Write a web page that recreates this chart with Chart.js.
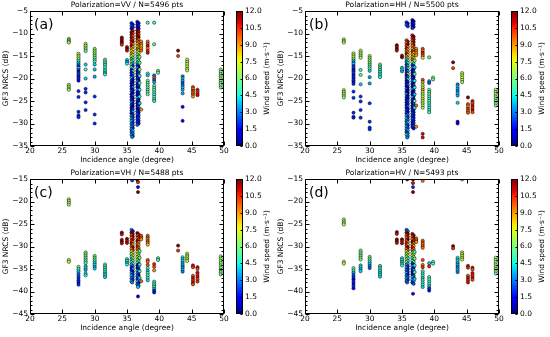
<!DOCTYPE html>
<html><head><meta charset="utf-8">
<script src="https://cdn.jsdelivr.net/npm/chart.js@4.4.0/dist/chart.umd.min.js"></script>
<style>
html,body{margin:0;padding:0;background:#fff;}
#wrap{position:relative;width:550px;height:337px;overflow:hidden;background:#fff;}
#wrap canvas{position:absolute;}
</style></head><body><div id="wrap"></div>
<script>
// ---------- labels / ticks ----------
const panelLetters = ['(a)', '(b)', '(c)', '(d)'];
const polarizations = ['VV', 'HH', 'VH', 'HV'];
const pointCounts = [5496, 5500, 5488, 5493];
const xRange = [20, 50];
const yRanges = [[-35, -5], [-35, -5], [-45, -15], [-45, -15]];
const windRange = [0, 12];
const windStep = 1.5;

// ---------- data: [incidence angle (deg), NRCS (dB), wind speed (m/s)] ----------
const vvPts = [
 [26.0,-11.2,6.5],[26.0,-11.5,6],[26.0,-11.8,7],[26.0,-12.0,6.5],
 [26.0,-21.4,6.5],[26.0,-21.8,7],[26.0,-22.2,6],[26.0,-22.5,6.5],
 [27.5,-14.5,7],[27.5,-14.9,6.5],[27.5,-15.3,7.5],[27.5,-15.7,6],[27.5,-16.1,5],[27.5,-16.5,4],[27.5,-16.9,3],[27.5,-17.3,2],[27.5,-17.7,5.5],[27.5,-18.1,2],[27.5,-18.5,1.5],[27.5,-18.9,2.5],[27.5,-19.3,2],[27.5,-19.7,1.8],[27.5,-20.1,2.2],[27.5,-20.5,1.5],
 [27.5,-22.8,2],[27.5,-24.1,2],[27.5,-27.4,1.8],[27.5,-28.2,2],[27.5,-28.6,2],
 [28.6,-12.3,6.5],[28.6,-12.7,7],[28.6,-13.1,6],[28.6,-13.5,6.5],[28.6,-13.9,5.5],
 [28.6,-16.9,4],[28.6,-18.0,5],[28.6,-20.0,4],[28.6,-22.3,2],[28.6,-23.1,2],[28.6,-25.3,2],[28.6,-27.0,2],
 [30.0,-13.4,6.5],[30.0,-13.8,6],[30.0,-14.2,7],[30.0,-14.6,5.5],[30.0,-15.0,6],[30.0,-15.4,6.5],[30.0,-15.8,5],[30.0,-16.2,5],
 [30.0,-16.9,4],[30.0,-18.0,3.8],[30.0,-19.6,3.5],[30.0,-24.0,2],[30.0,-28.0,2],[30.0,-30.0,1.8],
 [31.6,-15.8,6],[31.6,-16.2,5.5],[31.6,-16.6,5],[31.6,-17.0,4.5],[31.6,-17.5,5.5],[31.6,-18.0,4.5],[31.6,-18.4,5],[31.6,-18.8,4],[31.6,-19.1,5],
 [34.2,-10.9,12],[34.2,-11.3,11],[34.2,-11.7,12],[34.2,-12.1,11.5],[34.2,-12.5,10.5],
 [35.0,-13.0,11],[35.0,-13.4,12],[35.0,-13.8,11],[35.0,-15.9,4],[35.0,-16.3,3.5],[35.0,-16.7,4.5],
 [35.7,-7.7,2],[35.9,-8.0,1.5],[35.7,-8.3,2.5],[35.9,-8.6,2],[35.7,-8.9,1.5],
 [35.9,-9.4,11],[35.7,-9.7,12],[35.9,-10.0,10.5],[35.7,-10.3,11.5],[35.9,-10.6,9.5],[35.7,-10.9,12],[35.9,-11.2,10],[35.7,-11.5,11],[35.9,-11.8,12],[35.7,-12.1,10.5],[35.9,-12.4,9],[35.7,-12.7,11.5],
 [35.9,-13.0,8.5],[35.7,-13.3,9.5],[35.9,-13.6,7.5],[35.7,-13.9,8],[35.9,-14.2,6.5],[35.7,-14.5,9],[35.9,-14.8,7.5],[35.7,-15.1,7],
 [35.9,-15.4,6],[35.7,-15.7,4],[35.9,-16.0,5.5],[35.7,-16.3,7],[35.9,-16.6,3.5],[35.7,-16.9,5],[35.9,-17.2,2],[35.7,-17.5,6],[35.9,-17.8,4.5],[35.7,-18.1,1.5],[35.9,-18.4,5.5],
 [35.7,-18.7,1.5],[35.9,-19.0,3.5],[35.7,-19.3,1],[35.9,-19.6,2.5],[35.7,-19.9,4],[35.9,-20.2,1],[35.7,-20.5,2],[35.9,-20.8,0.8],
 [35.7,-21.1,0.8],[35.9,-21.4,2],[35.7,-21.7,1.2],[35.9,-22.0,3.5],[35.7,-22.3,0.8],[35.9,-22.6,1.5],[35.7,-22.9,2.5],[35.9,-23.2,1],[35.7,-23.5,0.5],[35.9,-23.8,3],[35.7,-24.1,1.5],[35.9,-24.4,1],
 [35.7,-24.7,2],[35.9,-25.0,0.8],[35.7,-25.3,3.5],[35.9,-25.6,1.2],[35.7,-25.9,2],[35.9,-26.2,1],[35.7,-26.5,0.5],[35.9,-26.8,2.5],[35.7,-27.1,1.5],[35.9,-27.4,4],[35.7,-27.7,1],[35.9,-28.0,2],
 [35.7,-28.3,3],[35.9,-28.6,2],[35.7,-28.9,3.5],[35.9,-29.2,2.5],[35.7,-29.5,4],[35.9,-29.8,2],[35.7,-30.1,3],[35.9,-30.4,2.5],[35.7,-30.7,3.5],[35.9,-31.0,2],[35.7,-31.3,3],[35.9,-31.6,4],[35.7,-31.9,2.5],[35.9,-32.2,3],[35.7,-32.5,3.5],[35.9,-32.8,2.5],[35.8,-33.0,3],
 [36.6,-7.4,1],[36.8,-7.7,1.5],[36.6,-8.0,0.8],[36.8,-8.3,2],[36.6,-8.6,1],[36.8,-8.9,1.5],
 [36.6,-9.3,12],[36.8,-9.6,11],[36.6,-9.9,12],[36.8,-10.2,10.5],[36.6,-10.5,11.5],[36.8,-10.8,12],[36.6,-11.1,11],
 [36.8,-11.4,9.5],[36.6,-11.7,10],[36.8,-12.0,9],[36.6,-12.3,8.5],[36.8,-12.6,9.5],[36.6,-12.9,8],[36.8,-13.2,9],[36.6,-13.5,10],
 [36.8,-13.8,7],[36.6,-14.1,6.5],[36.8,-14.4,7.5],[36.6,-14.7,5.5],[36.8,-15.0,6],[36.6,-15.3,4.5],[36.8,-15.6,6.5],[36.6,-15.9,5],[36.8,-16.2,7],[36.6,-16.5,4],[36.8,-16.8,6],
 [36.6,-17.1,2],[36.8,-17.4,1],[36.6,-17.7,3.5],[36.8,-18.0,0.8],[36.6,-18.3,1.5],[36.8,-18.6,2.5],[36.6,-18.9,1],[36.8,-19.2,4],[36.6,-19.5,0.5],[36.8,-19.8,1.5],[36.6,-20.1,2],[36.8,-20.4,1],
 [36.6,-20.7,3],[36.8,-21.0,0.8],[36.6,-21.3,1.5],[36.8,-21.6,2.5],[36.6,-21.9,1],[36.8,-22.2,0.8],[36.6,-22.5,3.5],[36.8,-22.8,1.5],[36.6,-23.1,1],[36.8,-23.4,2],[36.6,-23.7,0.8],[36.8,-24.0,1.5],
 [36.6,-24.3,4],[36.8,-24.6,1],[36.6,-24.9,2],[36.8,-25.2,1.5],[36.6,-25.5,0.5],[36.8,-25.8,2.5],[36.6,-26.1,1],[36.8,-26.4,3],[36.6,-26.7,0.8],[36.8,-27.0,1.5],[36.6,-27.3,2],[36.8,-27.6,1],[36.6,-27.9,2.5],
 [36.8,-28.2,2],[36.6,-28.5,1.5],[36.8,-28.8,2.5],[36.6,-29.1,2],[36.8,-29.4,1.8],[36.6,-29.7,2],[36.8,-30.0,1.5],[36.6,-30.3,2.5],
 [36.95,-15.2,6],[36.95,-16.5,5.5],[36.95,-18.0,6.5],[36.95,-19.4,5],[36.95,-21.0,5.5],[36.95,-22.5,4.5],[36.95,-24.0,5],[36.95,-25.5,4],
 [37.2,-11.8,9],[37.2,-12.3,9.5],[37.2,-12.8,8.5],[37.2,-13.3,9],[37.2,-13.8,9.5],[37.2,-26.9,9],
 [38.2,-7.6,5.5],[38.2,-11.8,9.5],[38.2,-12.3,10],[38.2,-12.8,11],[38.2,-13.3,9],[38.2,-13.8,10.5],[38.2,-14.3,11],
 [38.2,-18.9,5],[38.2,-19.3,4],[38.2,-20.5,6],[38.2,-21.0,5],[38.2,-21.5,6],[38.2,-22.0,5.5],[38.2,-22.5,5],[38.2,-23.0,6],[38.2,-23.5,5.5],
 [39.2,-7.6,5],[39.2,-12.4,5.5],[39.2,-19.3,3],[39.2,-19.8,10],[39.2,-20.3,2.5],[39.2,-20.8,3.5],
 [39.2,-21.6,5.5],[39.2,-22.1,5],[39.2,-22.6,6],[39.2,-23.1,5],[39.2,-23.6,4.5],[39.2,-24.1,5.5],[39.2,-24.6,5],[39.2,-25.0,4.5],
 [39.8,-18.3,6],[39.8,-18.7,5.5],
 [42.9,-13.8,12],[42.9,-15.0,10],
 [43.6,-19.5,3],[43.6,-20.0,4],[43.6,-20.5,3.5],[43.6,-21.0,2.5],[43.6,-21.5,3],[43.6,-22.0,4],[43.6,-22.5,3.5],[43.6,-23.3,3.5],[43.6,-26.3,1.5],[43.6,-29.4,1.5],
 [44.3,-15.8,7],[44.3,-16.3,6.5],[44.3,-16.8,7.5],[44.3,-17.3,7],[44.3,-17.8,6.5],[44.3,-18.2,7],
 [45.2,-21.9,10],[45.2,-22.3,9],[45.2,-22.7,10.5],[45.2,-23.1,9.5],[45.2,-23.5,10],[45.2,-24.0,9],
 [45.9,-22.5,11],[45.9,-22.9,10],[45.9,-23.3,10.5],[45.9,-23.7,11],
 [49.5,-18.0,6],[49.5,-18.5,6.5],[49.5,-19.0,5.5],[49.5,-19.5,6],[49.5,-20.0,6.5],[49.5,-20.5,5.5],[49.5,-21.0,6],[49.5,-21.5,6.5],[49.5,-22.0,5.5]
];

const hhPts = [
 [26.0,-11.3,6.5],[26.0,-11.7,7],[26.0,-12.0,6.5],
 [26.0,-22.6,7],[26.0,-23.0,6.5],[26.0,-23.4,7],[26.0,-23.8,6],[26.0,-24.2,6.5],
 [27.5,-14.4,7],[27.5,-14.8,6.5],[27.5,-15.2,7.5],[27.5,-15.6,6],[27.5,-16.0,4],[27.5,-16.4,3],[27.5,-16.8,5],[27.5,-17.2,2],[27.5,-17.6,2.5],[27.5,-18.0,1.5],[27.5,-18.4,2],[27.5,-18.8,2.5],[27.5,-19.2,1.5],[27.5,-19.6,2],[27.5,-20.0,1.8],[27.5,-20.4,2.2],[27.5,-20.8,1.5],[27.5,-21.2,2],
 [27.5,-22.9,2],[27.5,-24.3,2],[27.5,-27.6,2],[27.5,-28.5,2],[27.5,-28.7,1.8],
 [28.6,-13.8,7],[28.6,-14.2,6.5],[28.6,-14.6,7],[28.6,-15.0,6],[28.6,-15.4,6.5],
 [28.6,-18.1,5],[28.6,-19.2,5.5],[28.6,-21.3,4],[28.6,-24.0,2],[28.6,-25.1,2],[28.6,-27.0,2],[28.6,-28.7,2],
 [30.0,-15.0,6.5],[30.0,-15.4,6],[30.0,-15.8,7],[30.0,-16.2,5.5],[30.0,-16.6,6],[30.0,-17.0,5],[30.0,-17.4,6],[30.0,-17.8,5.5],
 [30.0,-18.3,4],[30.0,-19.7,3.5],[30.0,-21.1,3.5],[30.0,-25.5,2],[30.0,-29.6,2],[30.0,-30.9,2],[30.0,-31.3,2],
 [31.6,-16.9,6],[31.6,-17.3,5],[31.6,-17.7,5.5],[31.6,-18.1,4.5],[31.6,-18.5,5],[31.6,-18.9,4.5],[31.6,-19.3,5],[31.6,-19.7,4.5],
 [34.2,-12.6,12],[34.2,-13.0,11],[34.2,-13.4,12],[34.2,-13.8,11],
 [35.0,-14.9,11.5],[35.0,-15.3,12],[35.0,-17.6,4],[35.0,-18.0,5],[35.0,-18.4,3.5],
 [35.7,-7.5,2],[35.9,-7.8,1.5],[35.7,-8.1,2.5],[35.9,-8.4,2],
 [35.7,-11.5,10],[35.9,-11.8,11.5],[35.7,-12.1,9.5],[35.9,-12.4,12],[35.7,-12.7,10.5],[35.9,-13.0,9],[35.7,-13.3,11],[35.9,-13.6,8.5],[35.7,-13.9,10],[35.9,-14.2,9],[35.7,-14.5,11.5],[35.9,-14.8,8],[35.7,-15.1,9.5],
 [35.9,-15.4,7],[35.7,-15.7,4],[35.9,-16.0,6],[35.7,-16.3,3],[35.9,-16.6,5],[35.7,-16.9,2],[35.9,-17.2,4],[35.7,-17.5,2.5],[35.9,-17.8,6],[35.7,-18.1,1.5],[35.9,-18.4,3.5],[35.7,-18.7,2],[35.9,-19.0,8],[35.7,-19.3,1],[35.9,-19.6,3],[35.7,-19.9,2],[35.9,-20.2,4.5],
 [35.7,-20.5,1],[35.9,-20.8,2],[35.7,-21.1,0.8],[35.9,-21.4,3],[35.7,-21.7,1.5],[35.9,-22.0,0.8],[35.7,-22.3,2.5],[35.9,-22.6,1],[35.7,-22.9,1.5],[35.9,-23.2,0.5],[35.7,-23.5,3.5],[35.9,-23.8,1],[35.7,-24.1,2],
 [35.9,-24.4,0.8],[35.7,-24.7,1.5],[35.9,-25.0,2.5],[35.7,-25.3,1],[35.9,-25.6,2],[35.7,-25.9,0.8],[35.9,-26.2,3],[35.7,-26.5,1.5],[35.9,-26.8,1],[35.7,-27.1,2.5],[35.9,-27.4,1],[35.7,-27.7,2],
 [35.9,-28.0,3],[35.7,-28.3,3.5],[35.9,-28.6,2],[35.7,-28.9,4],[35.9,-29.2,3],[35.7,-29.5,2.5],[35.9,-29.8,4.5],[35.7,-30.1,3],[35.9,-30.4,2],[35.7,-30.7,3.5],[35.9,-31.0,2.5],[35.7,-31.3,3],[35.9,-31.6,4],[35.7,-31.9,2],[35.9,-32.2,3],[35.7,-32.5,5],[35.9,-32.8,3.5],[35.8,-33.1,3],
 [36.6,-7.0,1],[36.8,-7.3,1.5],[36.6,-7.6,0.8],[36.8,-7.9,2],[36.6,-8.2,1],[36.8,-8.5,1.5],[36.6,-8.8,2],
 [36.6,-10.4,11],[36.8,-10.7,12],[36.6,-11.0,10.5],[36.8,-11.3,11.5],[36.6,-11.6,10],[36.8,-11.9,12],[36.6,-12.2,9.5],[36.8,-12.5,11],[36.6,-12.8,9],[36.8,-13.1,10],
 [36.6,-13.4,8.5],[36.8,-13.7,9.5],[36.6,-14.0,11],[36.8,-14.3,8],[36.6,-14.6,9],[36.8,-14.9,7.5],[36.6,-15.2,9],[36.8,-15.5,8],[36.6,-15.8,10],
 [36.8,-16.1,6],[36.6,-16.4,7],[36.8,-16.7,5],
 [36.6,-17.0,2],[36.8,-17.3,1],[36.6,-17.6,3.5],[36.8,-17.9,0.8],[36.6,-18.2,1.5],[36.8,-18.5,2.5],[36.6,-18.8,1],[36.8,-19.1,4],[36.6,-19.4,0.5],[36.8,-19.7,1.5],[36.6,-20.0,2],[36.8,-20.3,1],
 [36.6,-20.6,3],[36.8,-20.9,0.8],[36.6,-21.2,1.5],[36.8,-21.5,2.5],[36.6,-21.8,1],[36.8,-22.1,0.8],[36.6,-22.4,3.5],[36.8,-22.7,1.5],[36.6,-23.0,1],[36.8,-23.3,2],[36.6,-23.6,0.8],[36.8,-23.9,1.5],
 [36.6,-24.2,4],[36.8,-24.5,1],[36.6,-24.8,2],[36.8,-25.1,1.5],[36.6,-25.4,0.5],[36.8,-25.7,2.5],[36.6,-26.0,1],[36.8,-26.3,3],[36.6,-26.6,0.8],[36.8,-26.9,1.5],[36.6,-27.2,2],[36.8,-27.5,1],[36.6,-27.8,2.5],[36.8,-28.1,1.5],
 [36.6,-28.4,2],[36.8,-28.7,1.5],[36.6,-29.0,2.5],[36.8,-29.3,2],[36.6,-29.6,1.8],[36.8,-29.9,2],[36.6,-30.2,1.5],[36.8,-30.5,2.5],[36.6,-30.8,2],[36.8,-31.1,1.5],
 [36.95,-16.0,6],[36.95,-17.5,4],[36.95,-19.0,5.5],[36.95,-20.5,4.5],[36.95,-22.0,5],[36.95,-23.5,4],[36.95,-25.0,5.5],[36.95,-26.5,4.5],
 [37.2,-13.4,9],[37.2,-13.9,9.5],[37.2,-14.4,8.5],[37.2,-14.8,9],[37.2,-26.0,9.5],[37.2,-30.7,9],
 [38.2,-13.4,10],[38.2,-13.8,9],[38.2,-14.2,11],[38.2,-14.6,10],[38.2,-15.0,9.5],[38.2,-15.4,8],
 [38.2,-20.3,10],[38.2,-20.8,9],
 [38.2,-21.5,7],[38.2,-22.0,6.5],[38.2,-22.5,9],[38.2,-23.0,7],[38.2,-23.5,6],[38.2,-24.0,7.5],[38.2,-24.5,6.5],[38.2,-25.0,7],[38.2,-25.5,6],[38.2,-26.0,7],[38.2,-26.5,6.5],
 [38.2,-32.3,11],[38.2,-33.1,11],
 [39.2,-15.3,5.5],[39.2,-20.6,3.5],[39.2,-21.0,2.5],
 [39.2,-22.5,5.5],[39.2,-23.0,5],[39.2,-23.5,6],[39.2,-24.0,5],[39.2,-24.5,4.5],[39.2,-25.0,5.5],[39.2,-25.5,5],[39.2,-26.0,4.5],[39.2,-26.5,5],[39.2,-27.0,4.5],[39.2,-27.5,5],
 [39.8,-19.8,6],[39.8,-20.2,5.5],
 [42.9,-16.4,12],[42.9,-17.7,10],
 [43.6,-21.3,3],[43.6,-21.8,4],[43.6,-22.3,3.5],[43.6,-22.8,3],[43.6,-23.3,4],[43.6,-23.8,3.5],[43.6,-25.4,4],[43.6,-29.6,1.5],[43.6,-30.0,1.5],
 [44.3,-18.8,7],[44.3,-19.3,6.5],[44.3,-19.8,7.5],[44.3,-20.3,7],[44.3,-20.8,6.5],
 [45.2,-24.2,12],[45.2,-25.7,10],[45.2,-26.2,9],[45.2,-26.7,10.5],[45.2,-27.2,9.5],[45.2,-27.6,10],
 [45.9,-25.0,11],[45.9,-25.5,10],[45.9,-26.0,11],[45.9,-26.5,10.5],[45.9,-27.0,11],[45.9,-27.5,10],
 [49.5,-22.5,6.5],[49.5,-23.0,6],[49.5,-23.5,7],[49.5,-24.0,6.5],[49.5,-24.5,5.5],[49.5,-25.0,6],[49.5,-25.5,6.5],[49.5,-26.0,5.5]
];

const vhPts = [
 [26.0,-19.5,7],[26.0,-19.9,6.5],[26.0,-20.3,7],[26.0,-20.7,6.5],
 [26.0,-33.0,6.5],[26.0,-33.4,7],
 [27.5,-34.5,6],[27.5,-35.0,5],[27.5,-35.5,4],[27.5,-36.0,3],[27.5,-36.5,2.5],[27.5,-37.0,2],[27.5,-37.5,2],[27.5,-38.0,1.5],[27.5,-38.5,2],
 [28.6,-31.3,6],[28.6,-31.7,6.5],[28.6,-32.1,5.5],[28.6,-32.5,6],[28.6,-32.9,5.5],[28.6,-33.3,6],[28.6,-33.7,5],
 [28.6,-34.4,4],[28.6,-34.8,4.5],[28.6,-35.2,3.5],[28.6,-36.0,4],[28.6,-36.4,4.5],
 [30.0,-32.1,6],[30.0,-32.5,5.5],[30.0,-32.9,6],[30.0,-33.3,5],[30.0,-33.7,4],[30.0,-34.1,4.5],[30.0,-34.5,3.5],[30.0,-34.9,4],
 [31.6,-34.0,5.5],[31.6,-34.4,5],[31.6,-34.8,4.5],[31.6,-35.2,5],[31.6,-35.6,4.5],[31.6,-36.0,4],[31.6,-36.4,4.5],[31.6,-36.8,4],
 [34.2,-26.9,12],[34.2,-27.3,11],[34.2,-28.5,11.5],[34.2,-28.9,12],[34.2,-29.3,11],
 [35.0,-28.3,12],[35.0,-28.8,11],[35.0,-29.2,11.5],[35.0,-32.8,4.5],[35.0,-33.2,5],[35.0,-33.6,4],[35.0,-34.0,4.5],
 [35.8,-15.3,2],
 [35.7,-26.3,3],[35.9,-26.6,2],
 [35.7,-26.9,12],[35.9,-27.2,11],[35.7,-27.5,10],[35.9,-27.8,12],[35.7,-28.1,9.5],[35.9,-28.4,11],[35.7,-28.7,10.5],[35.9,-29.0,9],[35.7,-29.3,11.5],[35.9,-29.6,8.5],[35.7,-29.9,10],[35.9,-30.2,12],[35.7,-30.5,9],[35.9,-30.8,10.5],[35.7,-31.1,8],
 [35.9,-31.4,7],[35.7,-31.7,6],[35.9,-32.0,8],[35.7,-32.3,5],[35.9,-32.6,7],[35.7,-32.9,4],[35.9,-33.2,6],[35.7,-33.5,4.5],[35.9,-33.8,5.5],[35.7,-34.1,3.5],
 [35.9,-34.4,3],[35.7,-34.7,1.5],[35.9,-35.0,4],[35.7,-35.3,2],[35.9,-35.6,1],[35.7,-35.9,3.5],[35.9,-36.2,2],[35.7,-36.5,4],[35.9,-36.8,2.5],[35.7,-37.1,3],[35.9,-37.4,2],[35.7,-37.7,3.5],[35.8,-38.0,3],
 [36.6,-15.2,12],[36.7,-15.7,10.5],[36.7,-16.8,1.5],[36.7,-17.9,12],
 [36.6,-27.0,12],[36.8,-27.3,11],[36.6,-27.6,10],[36.8,-27.9,11.5],[36.6,-28.2,9.5],[36.8,-28.5,10.5],[36.6,-28.8,12],[36.8,-29.1,9],[36.6,-29.4,10],[36.8,-29.7,8.5],[36.6,-30.0,11],[36.8,-30.3,9.5],[36.6,-30.6,10],[36.8,-30.9,8],
 [36.6,-31.2,7.5],[36.8,-31.5,6],[36.6,-31.8,8],[36.8,-32.1,5.5],[36.6,-32.4,7],[36.8,-32.7,4.5],[36.6,-33.0,6.5],[36.8,-33.3,5],[36.6,-33.6,6],
 [36.8,-33.9,2],[36.6,-34.2,1],[36.8,-34.5,3.5],[36.6,-34.8,0.8],[36.8,-35.1,2],[36.6,-35.4,4],[36.8,-35.7,1.5],[36.6,-36.0,3],[36.8,-36.3,1],[36.6,-36.6,2.5],[36.8,-36.9,4],[36.6,-37.2,2],[36.8,-37.5,3.5],[36.6,-37.8,4],[36.8,-38.1,1.5],[36.6,-38.4,2.5],[36.8,-38.7,3],[36.7,-39.0,4],
 [36.7,-41.1,1.5],
 [36.95,-31.0,5],[36.95,-32.5,6],[36.95,-34.0,4.5],[36.95,-35.5,5.5],[36.95,-37.0,4],
 [37.2,-27.6,9.5],[37.2,-28.0,10],[37.2,-28.4,9],[37.2,-37.7,9.5],
 [38.2,-27.6,9.5],[38.2,-28.0,10],[38.2,-28.4,9],[38.2,-28.8,10],[38.2,-29.2,9.5],[38.2,-29.6,8.5],
 [38.2,-33.0,10],[38.2,-33.4,9.5],[38.2,-34.1,10],
 [38.2,-34.8,5],[38.2,-35.4,4],[38.2,-35.9,5.5],[38.2,-36.4,4.5],[38.2,-37.0,5],[38.2,-37.5,4],
 [39.2,-33.9,10.5],[39.2,-34.5,10],[39.2,-35.3,9],
 [39.2,-37.8,5],[39.2,-38.2,5.5],[39.2,-38.6,4.5],[39.2,-39.0,5],[39.2,-39.4,4],[39.2,-39.8,2],[39.2,-40.2,1.5],
 [39.8,-32.6,5.5],[39.8,-33.0,5],
 [42.9,-29.8,12],[42.9,-30.9,10.5],
 [43.6,-32.4,4.5],[43.6,-32.8,4],[43.6,-33.2,5],[43.6,-33.6,3.5],[43.6,-34.0,4],[43.6,-34.4,3],[43.6,-34.8,3.5],[43.6,-35.2,4],[43.6,-35.6,3],
 [44.3,-31.6,7],[44.3,-32.0,6.5],[44.3,-32.4,7.5],[44.3,-32.8,6.5],[44.3,-33.2,7],
 [45.2,-34.2,11],[45.2,-34.6,10.5],[45.2,-36.5,10],[45.2,-37.0,11],[45.2,-37.5,10.5],[45.2,-38.0,11],[45.2,-38.4,10],
 [45.9,-34.6,11],[45.9,-35.0,10],[45.9,-35.8,11],[45.9,-36.3,10.5],[45.9,-36.8,11],[45.9,-37.3,10],[45.9,-37.8,10.5],
 [49.5,-32.2,6.5],[49.5,-32.7,6],[49.5,-33.2,7],[49.5,-33.7,6.5],[49.5,-34.2,5.5],[49.5,-34.7,6],[49.5,-35.2,6.5],[49.5,-35.7,5.5],[49.5,-36.2,6]
];

const hvPts = [
 [26.0,-24.0,7],[26.0,-24.4,6.5],[26.0,-24.8,7],[26.0,-25.1,6.5],
 [26.0,-33.4,6.5],[26.0,-33.8,7],
 [27.5,-34.8,6],[27.5,-35.3,5],[27.5,-35.8,3.5],[27.5,-36.3,2.5],[27.5,-36.8,2],[27.5,-37.3,1.5],[27.5,-37.8,2],[27.5,-38.3,1.5],[27.5,-38.8,2],[27.5,-39.3,1.5],
 [28.6,-30.9,6],[28.6,-31.3,6.5],[28.6,-31.7,5.5],[28.6,-32.1,6],[28.6,-32.5,6.5],[28.6,-32.9,5.5],
 [28.6,-34.2,4],[28.6,-34.6,4.5],[28.6,-35.0,3.5],[28.6,-35.5,4],
 [30.0,-32.3,5.5],[30.0,-32.7,6],[30.0,-33.1,5],[30.0,-33.5,4.5],[30.0,-33.9,4],[30.0,-34.3,3],[30.0,-34.8,2.5],
 [31.6,-34.3,5],[31.6,-34.7,4.5],[31.6,-35.1,5],[31.6,-35.5,4.5],[31.6,-35.9,4],[31.6,-36.3,4.5],[31.6,-36.7,4],
 [34.2,-26.8,12],[34.2,-27.2,11],[34.2,-28.4,11.5],[34.2,-28.8,12],[34.2,-29.2,11],
 [35.0,-28.4,12],[35.0,-28.8,11],[35.0,-29.3,11.5],[35.0,-32.6,4.5],[35.0,-33.0,5],[35.0,-33.4,4],[35.0,-33.8,4.5],[35.0,-34.2,5],
 [35.8,-15.1,2],
 [35.7,-26.3,2.5],[35.9,-26.6,3],
 [35.7,-26.9,11.5],[35.9,-27.2,12],[35.7,-27.5,10],[35.9,-27.8,11],[35.7,-28.1,9.5],[35.9,-28.4,12],[35.7,-28.7,10],[35.9,-29.0,9],[35.7,-29.3,11],[35.9,-29.6,8.5],[35.7,-29.9,10.5],[35.9,-30.2,12],[35.7,-30.5,9.5],[35.9,-30.8,10],[35.7,-31.1,8],
 [35.9,-31.4,7],[35.7,-31.7,5.5],[35.9,-32.0,8],[35.7,-32.3,6],[35.9,-32.6,4.5],[35.7,-32.9,7],[35.9,-33.2,5],[35.7,-33.5,6.5],[35.9,-33.8,4],[35.7,-34.1,3.5],
 [35.9,-34.4,2],[35.7,-34.7,3.5],[35.9,-35.0,1.5],[35.7,-35.3,3],[35.9,-35.6,2],[35.7,-35.9,4],[35.9,-36.2,1.5],[35.7,-36.5,3],[35.9,-36.8,2.5],[35.7,-37.1,3.5],[35.9,-37.4,2],[35.7,-37.7,3],[35.8,-38.0,2.5],
 [36.7,-15.1,12],[36.7,-15.9,11],[36.7,-16.8,2],[36.7,-17.9,12],
 [36.6,-27.2,11],[36.8,-27.5,12],[36.6,-27.8,10],[36.8,-28.1,11.5],[36.6,-28.4,9.5],[36.8,-28.7,10.5],[36.6,-29.0,12],[36.8,-29.3,9],[36.6,-29.6,10],[36.8,-29.9,8.5],[36.6,-30.2,11],[36.8,-30.5,9.5],[36.6,-30.8,10],
 [36.8,-31.1,7.5],[36.6,-31.4,6],[36.8,-31.7,8],[36.6,-32.0,5.5],[36.8,-32.3,7],[36.6,-32.6,4.5],[36.8,-32.9,6.5],[36.6,-33.2,5],[36.8,-33.5,6],
 [36.6,-33.8,2],[36.8,-34.1,1],[36.6,-34.4,3.5],[36.8,-34.7,0.8],[36.6,-35.0,2],[36.8,-35.3,4],[36.6,-35.6,1.5],[36.8,-35.9,3],[36.6,-36.2,1],[36.8,-36.5,2.5],[36.6,-36.8,4],[36.8,-37.1,2],[36.6,-37.4,3.5],[36.8,-37.7,4],[36.6,-38.0,1.5],[36.8,-38.3,2.5],
 [36.7,-40.5,1.5],
 [36.95,-31.2,5],[36.95,-32.7,6],[36.95,-34.2,4.5],[36.95,-35.7,5.5],[36.95,-37.2,4],
 [37.2,-28.2,9.5],[37.2,-28.6,10],[37.2,-29.0,9],
 [38.2,-15.4,9.5],
 [38.2,-28.7,9.5],[38.2,-29.1,10],[38.2,-29.5,9],[38.2,-29.9,10],[38.2,-30.3,9.5],
 [38.2,-33.0,10],[38.2,-34.1,9.5],[38.2,-34.6,10.5],
 [38.2,-35.5,5],[38.2,-36.0,4.5],[38.2,-36.5,5.5],[38.2,-37.0,4],[38.2,-37.5,5],[38.2,-38.0,4.5],[38.2,-38.5,5],[38.2,-39.0,4],
 [39.2,-33.7,4],[39.2,-34.4,10.5],
 [39.2,-36.8,5],[39.2,-37.3,5.5],[39.2,-37.8,4.5],[39.2,-38.3,5],[39.2,-38.8,4],[39.2,-39.3,2],[39.2,-39.8,1.5],
 [39.8,-33.4,5.5],[39.8,-33.8,5],
 [42.9,-29.9,12],[42.9,-30.4,10.5],
 [43.6,-32.5,4.5],[43.6,-32.9,4],[43.6,-33.3,5],[43.6,-33.7,3.5],[43.6,-34.1,4],[43.6,-34.5,3],[43.6,-34.9,3.5],[43.6,-35.3,4],[43.6,-35.7,3],
 [44.3,-15.1,6],
 [44.3,-31.3,7],[44.3,-31.7,6.5],[44.3,-32.1,7.5],[44.3,-32.5,6.5],[44.3,-32.9,7],
 [45.2,-34.3,11],[45.2,-34.7,10.5],[45.2,-36.5,10],[45.2,-37.0,11],[45.2,-37.5,10.5],[45.2,-38.0,11],
 [45.9,-34.7,11],[45.9,-35.1,10],[45.9,-35.9,11],[45.9,-36.4,10.5],[45.9,-36.9,11],[45.9,-37.4,10],
 [49.5,-32.5,6.5],[49.5,-33.0,6],[49.5,-33.5,7],[49.5,-34.0,6.5],[49.5,-34.5,5.5],[49.5,-35.0,6],[49.5,-35.5,6.5],[49.5,-36.0,5.5]
];

const panelData = [vvPts, hhPts, vhPts, hvPts];

// ---------- helpers ----------
const FONT = 'DejaVu Sans';
const small = {family: FONT, size: 7.5, weight: 'normal'};

function jet(t) {
  t = Math.max(0, Math.min(1, t));
  const f = (pts) => {
    for (let i = 1; i < pts.length; i++) {
      if (t <= pts[i][0]) {
        const [x0, y0] = pts[i - 1], [x1, y1] = pts[i];
        return y0 + (y1 - y0) * (t - x0) / (x1 - x0);
      }
    }
    return pts[pts.length - 1][1];
  };
  const r = f([[0,0],[0.35,0],[0.66,1],[0.89,1],[1,0.5]]);
  const g = f([[0,0],[0.125,0],[0.375,1],[0.64,1],[0.91,0],[1,0]]);
  const b = f([[0,0.5],[0.11,1],[0.34,1],[0.65,0],[1,0]]);
  return `rgb(${Math.round(r*255)},${Math.round(g*255)},${Math.round(b*255)})`;
}
const minusFmt = v => (v < 0 ? '\u2212' : '') + Math.abs(v);

const wrap = document.getElementById('wrap');
function addCanvas(w, h, left, top) {
  const c = document.createElement('canvas');
  c.width = w; c.height = h;
  c.style.width = w + 'px'; c.style.height = h + 'px';
  c.style.left = left + 'px'; c.style.top = top + 'px';
  wrap.appendChild(c);
  return c;
}

function framePlugin(letter) {
  return {
    id: 'frameTicks',
    afterDraw(chart) {
      const {ctx, chartArea: a, scales: {x, y}} = chart;
      ctx.save();
      ctx.strokeStyle = '#000';
      ctx.lineWidth = 1;
      const L = Math.round(a.left) + 0.5, R = Math.round(a.right) - 0.5;
      const T = Math.round(a.top) + 0.5, B = Math.round(a.bottom) - 0.5;
      ctx.strokeRect(L, T, R - L, B - T);
      ctx.beginPath();
      for (let v = x.min; v <= x.max; v += 5) {
        const px = Math.round(x.getPixelForValue(v)) + 0.5;
        ctx.moveTo(px, B); ctx.lineTo(px, B - 4);
        ctx.moveTo(px, T); ctx.lineTo(px, T + 4);
      }
      for (let v = y.min; v <= y.max; v += 1) {
        const len = (v % 5 === 0) ? 4 : 2;
        const py = Math.round(y.getPixelForValue(v)) + 0.5;
        ctx.moveTo(L, py); ctx.lineTo(L + len, py);
        ctx.moveTo(R, py); ctx.lineTo(R - len, py);
      }
      ctx.stroke();
      ctx.fillStyle = '#000';
      ctx.font = '14px "' + FONT + '"';
      ctx.textAlign = 'left';
      ctx.textBaseline = 'alphabetic';
      ctx.fillText(letter, a.left + 4, a.top + 18);
      ctx.restore();
    }
  };
}

function makePanel(i, left, top) {
  const pts = panelData[i];
  const [ymin, ymax] = yRanges[i];
  const c = addCanvas(275, 168, left, top);
  new Chart(c, {
    type: 'scatter',
    data: {
      datasets: [{
        data: pts.map(p => ({x: p[0], y: p[1]})),
        backgroundColor: pts.map(p => jet((p[2] - windRange[0]) / (windRange[1] - windRange[0]))),
        borderColor: '#000',
        borderWidth: 0.5,
        pointRadius: 1.6,
        pointHoverRadius: 1.6
      }]
    },
    options: {
      responsive: false, animation: false, devicePixelRatio: 1, events: [],
      layout: {padding: {left: 0, right: 51, top: 0, bottom: 0}},
      plugins: {
        legend: {display: false}, tooltip: {enabled: false},
        title: {display: true, fullSize: false, text: `Polarization=${polarizations[i]} / N=${pointCounts[i]} pts`,
          font: small, color: '#000', padding: {top: 1, bottom: 1}}
      },
      scales: {
        x: {type: 'linear', min: xRange[0], max: xRange[1],
          ticks: {stepSize: 5, font: small, color: '#000', padding: 1, maxRotation: 0},
          grid: {display: false, drawTicks: false}, border: {display: false},
          title: {display: true, text: 'Incidence angle (degree)', font: small, color: '#000', padding: {top: 0, bottom: 3}},
          afterFit(s) { s.height = 22; }
        },
        y: {type: 'linear', min: ymin, max: ymax,
          ticks: {stepSize: 5, font: small, color: '#000', padding: 2, callback: minusFmt},
          grid: {display: false, drawTicks: false}, border: {display: false},
          title: {display: true, text: 'GF3 NRCS (dB)', font: small, color: '#000', padding: {top: 1.5, bottom: 0}},
          afterFit(s) { s.width = 30; }
        }
      }
    },
    plugins: [framePlugin(panelLetters[i])]
  });
}

const cbPlugin = {
  id: 'cbFrame',
  afterDraw(chart) {
    const {ctx, chartArea: a, scales: {y}} = chart;
    ctx.save();
    ctx.strokeStyle = '#000'; ctx.lineWidth = 1;
    const L = Math.round(a.left) + 0.5, R = Math.round(a.right) - 0.5;
    const T = Math.round(a.top) + 0.5, B = Math.round(a.bottom) - 0.5;
    ctx.strokeRect(L, T, R - L, B - T);
    ctx.beginPath();
    for (let v = windRange[0]; v <= windRange[1]; v += windStep) {
      const py = Math.round(y.getPixelForValue(v)) + 0.5;
      ctx.moveTo(R, py); ctx.lineTo(R - 2, py);
    }
    ctx.stroke();
    ctx.fillStyle = '#000';
    ctx.font = '7.5px "' + FONT + '"';
    ctx.textAlign = 'center'; ctx.textBaseline = 'middle';
    ctx.translate(37, (a.top + a.bottom) / 2);
    ctx.rotate(-Math.PI / 2);
    ctx.fillText('Wind speed (m\u00b7s\u207b\u00b9)', 0, 0);
    ctx.restore();
  }
};

function makeColorbar(left, top) {
  const c = addCanvas(45, 168, left, top);
  new Chart(c, {
    type: 'bar',
    data: {
      labels: [''],
      datasets: [{
        data: [windRange],
        borderWidth: 0,
        barPercentage: 1, categoryPercentage: 1,
        backgroundColor: (ctx) => {
          const chart = ctx.chart;
          const ys = chart.scales.y;
          if (!ys || !chart.chartArea) return '#888';
          const g = chart.ctx.createLinearGradient(0, ys.getPixelForValue(windRange[0]), 0, ys.getPixelForValue(windRange[1]));
          for (let k = 0; k <= 40; k++) g.addColorStop(k / 40, jet(k / 40));
          return g;
        }
      }]
    },
    options: {
      responsive: false, animation: false, devicePixelRatio: 1, events: [],
      layout: {padding: {left: 6, right: 0, top: 11, bottom: 22}},
      plugins: {legend: {display: false}, tooltip: {enabled: false}},
      scales: {
        x: {display: false},
        y: {position: 'right', min: windRange[0], max: windRange[1],
          ticks: {stepSize: windStep, font: small, color: '#000', padding: 2, callback: v => v.toFixed(1), autoSkip: false},
          grid: {display: false, drawTicks: false}, border: {display: false},
          afterFit(s) { s.width = 32; }
        }
      }
    },
    plugins: [cbPlugin]
  });
}

const origins = [[0, 0], [275, 0], [0, 168], [275, 168]];
origins.forEach(([l, t], i) => {
  makePanel(i, l, t);
  makeColorbar(l + 230, t);
});
</script>
</body></html>
